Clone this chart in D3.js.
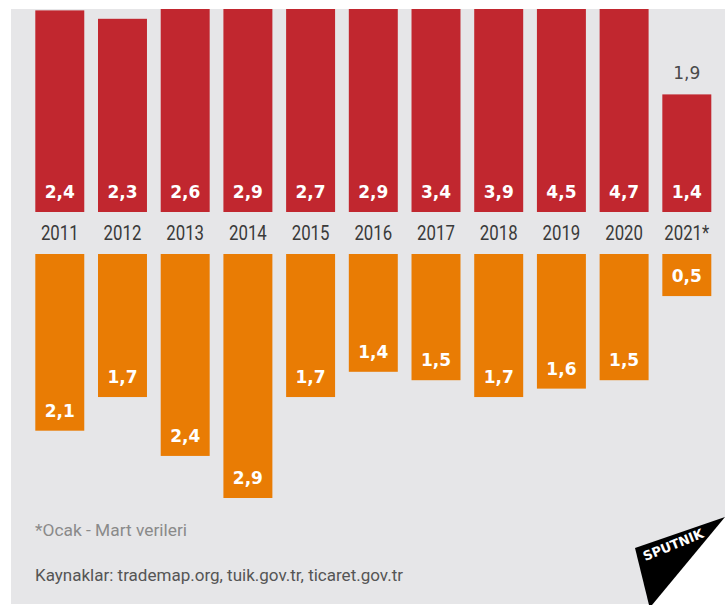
<!DOCTYPE html>
<html>
<head>
<meta charset="utf-8">
<script src="https://cdn.jsdelivr.net/npm/d3@7"></script>
<style>
  html, body { margin: 0; padding: 0; background: #fff; }
  svg { display: block; }
</style>
</head>
<body>
<div id="chart"></div>
<script>
// data (milyar dolar)
const years = ["2011", "2012", "2013", "2014", "2015", "2016", "2017", "2018", "2019", "2020", "2021*"];
const redValues = [2.4, 2.3, 2.6, 2.9, 2.7, 2.9, 3.4, 3.9, 4.5, 4.7, 1.4];
const orangeValues = [2.1, 1.7, 2.4, 2.9, 1.7, 1.4, 1.5, 1.7, 1.6, 1.5, 0.5];
const topNotes = [null, null, null, null, null, null, null, null, null, null, 1.9];
const footnote = "*Ocak - Mart verileri";
const sources = "Kaynaklar: trademap.org, tuik.gov.tr, ticaret.gov.tr";

const width = 725, height = 605;
const red = "#c1272f", orange = "#e97c04", bg = "#e6e6e8";
const fmt = v => String(v.toFixed(1)).replace(".", ",");

const svg = d3.select("#chart").append("svg")
  .attr("width", width)
  .attr("height", height);

// panel background
svg.append("rect").attr("x", 11).attr("y", 9)
  .attr("width", width - 11).attr("height", height - 10)
  .attr("fill", bg);

svg.append("defs").append("clipPath").attr("id", "panel")
  .append("rect").attr("x", 11).attr("y", 9).attr("width", width - 11).attr("height", height - 9);

const x = d3.scaleBand().domain(years).range([35.3, 711.3]).paddingInner(0.219).paddingOuter(0);

// same px per unit for both halves (~84px per 1 milyar)
const yRed = d3.scaleLinear().domain([0, 2.4]).range([212, 10.4]);
const yOrange = d3.scaleLinear().domain([0, 2.9]).range([254, 498]);

const g = svg.append("g").attr("clip-path", "url(#panel)");

g.selectAll("rect.red").data(redValues).enter().append("rect")
  .attr("class", "red")
  .attr("x", (d, i) => x(years[i]))
  .attr("y", d => yRed(d))
  .attr("width", x.bandwidth())
  .attr("height", d => yRed(0) - yRed(d))
  .attr("fill", red);

g.selectAll("rect.orange").data(orangeValues).enter().append("rect")
  .attr("class", "orange")
  .attr("x", (d, i) => x(years[i]))
  .attr("y", yOrange(0))
  .attr("width", x.bandwidth())
  .attr("height", d => yOrange(d) - yOrange(0))
  .attr("fill", orange);

const valueFont = "'DejaVu Sans', sans-serif";

svg.selectAll("text.rv").data(redValues).enter().append("text")
  .attr("class", "rv")
  .attr("x", (d, i) => x(years[i]) + x.bandwidth() / 2)
  .attr("y", yRed(0) - 14)
  .attr("text-anchor", "middle")
  .attr("font-family", valueFont)
  .attr("font-weight", "bold")
  .attr("font-size", 17)
  .attr("fill", "#fff")
  .text(fmt);

svg.selectAll("text.ov").data(orangeValues).enter().append("text")
  .attr("class", "ov")
  .attr("x", (d, i) => x(years[i]) + x.bandwidth() / 2)
  .attr("y", d => yOrange(d) - 14)
  .attr("text-anchor", "middle")
  .attr("font-family", valueFont)
  .attr("font-weight", "bold")
  .attr("font-size", 17)
  .attr("fill", "#fff")
  .text(fmt);

// note above the 2021 bar
svg.selectAll("text.note").data(topNotes.map((d, i) => ({ d, i })).filter(o => o.d != null))
  .enter().append("text")
  .attr("class", "note")
  .attr("x", o => x(years[o.i]) + x.bandwidth() / 2)
  .attr("y", o => yRed(redValues[o.i]) - 15)
  .attr("text-anchor", "middle")
  .attr("font-family", valueFont)
  .attr("font-size", 17)
  .attr("fill", "#4a4a4a")
  .text(o => fmt(o.d));

// year labels (condensed look)
svg.selectAll("text.year").data(years).enter().append("text")
  .attr("class", "year")
  .attr("x", d => x(d) + x.bandwidth() / 2)
  .attr("y", 240)
  .attr("text-anchor", "middle")
  .attr("font-family", "Roboto, sans-serif")
  .attr("font-size", 20)
  .attr("fill", "#3a3a3a")
  .text(d => d)
  .each(function () {
    const w = this.getComputedTextLength();
    d3.select(this).attr("textLength", w * 0.84).attr("lengthAdjust", "spacingAndGlyphs");
  });

// footer
svg.append("text")
  .attr("x", 35).attr("y", 536)
  .attr("font-family", "Roboto, sans-serif")
  .attr("font-size", 16)
  .attr("fill", "#8a8a8a")
  .attr("textLength", 152).attr("lengthAdjust", "spacingAndGlyphs")
  .text(footnote);

svg.append("text")
  .attr("x", 35).attr("y", 581)
  .attr("font-family", "Roboto, sans-serif")
  .attr("font-size", 16)
  .attr("fill", "#555")
  .attr("textLength", 368).attr("lengthAdjust", "spacingAndGlyphs")
  .text(sources);

// Sputnik corner logo
svg.append("path")
  .attr("d", "M725,517 L725,605 L652,605 Z")
  .attr("fill", "#fff");
svg.append("path")
  .attr("d", "M635,548 L725,517 L652,605 L649,605 Z")
  .attr("fill", "#000");
svg.append("text")
  .attr("transform", "translate(675,549) rotate(-22)")
  .attr("text-anchor", "middle")
  .attr("font-family", "'DejaVu Sans', sans-serif")
  .attr("font-weight", "bold")
  .attr("font-size", 13)
  .attr("fill", "#fff")
  .attr("textLength", 64).attr("lengthAdjust", "spacingAndGlyphs")
  .text("SPUTNIK");
</script>
</body>
</html>
